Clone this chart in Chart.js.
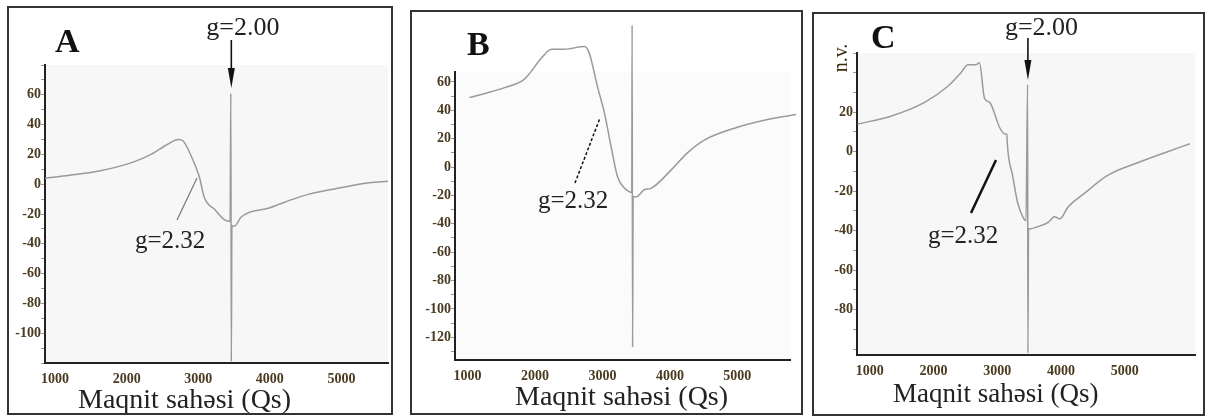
<!DOCTYPE html>
<html>
<head>
<meta charset="utf-8">
<script src="https://cdn.jsdelivr.net/npm/chart.js@4.4.1/dist/chart.umd.min.js"></script>
<style>
  html, body { margin: 0; padding: 0; background: #fff; }
  body { width: 1213px; height: 419px; position: relative; overflow: hidden; }
  .panel { position: absolute; box-sizing: border-box; border: 2px solid #333; background: #fff; }
  .panel canvas { display: block; }
</style>
</head>
<body>
<div class="panel" style="left:7px;top:6px;width:386px;height:409px"><canvas id="ca" width="382" height="405"></canvas></div>
<div class="panel" style="left:410px;top:10px;width:393px;height:405px"><canvas id="cb" width="389" height="401"></canvas></div>
<div class="panel" style="left:812px;top:12px;width:393px;height:404px"><canvas id="cc" width="389" height="400"></canvas></div>
<script>
// EPR spectra A, B, C: field (Qs) vs signal.
const aField = [860, 1200, 1634, 2100, 2340, 2580, 2720, 2790, 2900, 3015, 3085, 3230, 3370, 3445, 3455, 3462, 3470, 3510, 3600, 3990, 4450, 4920, 5390, 5650];
const aSignal = [4, 6, 9, 15, 20, 27, 30, 29, 19, 5, -9, -17, -24, -25, 61, -119, -28, -28, -22, -16, -8, -3, 1, 2];

const bField = [1030, 1550, 1845, 2100, 2245, 2440, 2730, 2800, 2930, 3030, 3130, 3225, 3330, 3385, 3435, 3440, 3447, 3455, 3500, 3620, 3720, 4020, 4260, 4510, 5000, 5500, 5870];
const bSignal = [49, 56, 62, 77, 83, 83, 85, 81, 56, 38, 14, -7, -15, -17, -18, 100, -127, -21, -21, -16, -15, -2, 10, 19, 28, 34, 37];

const cField = [810, 1330, 1860, 2220, 2430, 2540, 2660, 2720, 2800, 2880, 3040, 3120, 3150, 3155, 3240, 3320, 3400, 3450, 3475, 3480, 3490, 3525, 3630, 3790, 3900, 3980, 4110, 4370, 4730, 5250, 5670, 6020];
const cSignal = [14, 18, 25, 33, 40, 44, 44, 45, 27, 25, 12, 9, 9, 5, -12, -26, -33, -35, 34, -102, -39, -39, -38, -36, -33, -34, -28, -21, -12, -5, 0, 4];

const xTickLabels = [1000, 2000, 3000, 4000, 5000];
const aYLabels = [60, 40, 20, 0, -20, -40, -60, -80, -100];
const bYLabels = [60, 40, 20, 0, -20, -40, -60, -80, -100, -120];
const cYLabels = [20, 0, -20, -40, -60, -80];
const xTitle = "Maqnit sahəsi (Qs)";

const SERIF = '"Liberation Serif", "Times New Roman", serif';
const TICK_COLOR = "#4a3a20";

function txt(ctx, s, x, y, font, color) {
  ctx.font = font;
  ctx.fillStyle = color || "#222";
  ctx.textAlign = "left";
  ctx.textBaseline = "alphabetic";
  ctx.fillText(s, x, y);
}

function line(ctx, x1, y1, x2, y2, color, width, dash) {
  ctx.save();
  ctx.strokeStyle = color;
  ctx.lineWidth = width;
  ctx.setLineDash(dash || []);
  ctx.beginPath();
  ctx.moveTo(x1, y1);
  ctx.lineTo(x2, y2);
  ctx.stroke();
  ctx.restore();
}

function arrow(ctx, x, y1, y2) {
  line(ctx, x, y1, x, y2 - 18, "#111", 1.6);
  ctx.fillStyle = "#111";
  ctx.beginPath();
  ctx.moveTo(x - 3.5, y2 - 20);
  ctx.lineTo(x + 3.5, y2 - 20);
  ctx.lineTo(x, y2);
  ctx.closePath();
  ctx.fill();
}

// x pixel of the sharp g=2.00 line (where the signal dips lowest)
function spikeX(chart, field, signal) {
  return chart.scales.x.getPixelForValue(field[signal.indexOf(Math.min(...signal))]);
}

function panel(id, field, signal, cfg) {
  const notes = {
    id: "notes",
    beforeDraw(chart) {
      const { ctx, chartArea: a } = chart;
      ctx.save();
      ctx.fillStyle = cfg.bg;
      ctx.fillRect(a.left, a.top, a.right - a.left, a.bottom - a.top);
      ctx.restore();
    },
    afterDraw(chart) {
      const ctx = chart.ctx;
      ctx.save();
      cfg.notes(ctx, chart);
      ctx.restore();
    }
  };
  // minor ticks every 10 units, labels only where the figure has them
  const yTicks = [];
  for (let v = Math.ceil(cfg.yMin / 10) * 10; v <= cfg.yMax; v += 10) yTicks.push(v);

  return new Chart(document.getElementById(id), {
    type: "line",
    data: {
      datasets: [{
        data: field.map((f, i) => ({ x: f, y: signal[i] })),
        borderColor: "#9a9a9a",
        borderWidth: 1.5,
        pointRadius: 0,
        cubicInterpolationMode: "monotone",
        clip: false
      }]
    },
    plugins: [notes],
    options: {
      responsive: false,
      animation: false,
      layout: { padding: cfg.pad },
      plugins: { legend: { display: false }, tooltip: { enabled: false } },
      scales: {
        x: {
          type: "linear",
          min: cfg.xMin,
          max: cfg.xMax,
          afterBuildTicks(s) { s.ticks = xTickLabels.map((v) => ({ value: v })); },
          afterFit(s) { s.height = 20; },
          border: { color: "#222", width: 2 },
          grid: { drawOnChartArea: false, drawTicks: false },
          ticks: {
            autoSkip: false,
            maxRotation: 0,
            padding: 8,
            color: TICK_COLOR,
            font: { family: SERIF, size: 14, weight: "bold" },
            callback: (v) => String(v)
          }
        },
        y: {
          min: cfg.yMin,
          max: cfg.yMax,
          afterBuildTicks(s) { s.ticks = yTicks.map((v) => ({ value: v })); },
          afterFit(s) { s.width = cfg.yWidth; },
          border: { color: "#222", width: 2 },
          grid: { drawOnChartArea: false, drawTicks: true, tickLength: 4, color: "#999" },
          ticks: {
            autoSkip: false,
            padding: 0,
            color: TICK_COLOR,
            font: { family: SERIF, size: 14, weight: "bold" },
            callback: (v) => (cfg.yLabels.includes(v) ? String(v) : "")
          }
        }
      }
    }
  });
}

panel("ca", aField, aSignal, {
  xMin: 860, xMax: 5650, yMin: -120, yMax: 80, yLabels: aYLabels, yWidth: 36,
  pad: { left: 0, right: 3, top: 57, bottom: 30 }, bg: "#f7f7f7",
  notes(ctx, chart) {
    const sx = spikeX(chart, aField, aSignal);
    txt(ctx, "A", 46, 44, "bold 34px " + SERIF, "#111");
    txt(ctx, "g=2.00", sx - 25, 27, "26px " + SERIF);
    arrow(ctx, sx, 32, 80);
    line(ctx, 168, 212, 188, 170, "#777", 1.2);
    txt(ctx, "g=2.32", 126, 240, "25px " + SERIF);
    txt(ctx, xTitle, 69, 400, "28px " + SERIF);
  }
});

panel("cb", bField, bSignal, {
  xMin: 815, xMax: 5780, yMin: -136, yMax: 67, yLabels: bYLabels, yWidth: 43,
  pad: { left: 0, right: 11, top: 60, bottom: 33 }, bg: "#fbfbfb",
  notes(ctx) {
    txt(ctx, "B", 55, 43, "bold 34px " + SERIF, "#111");
    line(ctx, 163, 171, 188, 106, "#111", 1.5, [3, 2]);
    txt(ctx, "g=2.32", 126, 196, "25px " + SERIF);
    txt(ctx, xTitle, 103, 393, "28px " + SERIF);
  }
});

panel("cc", cField, cSignal, {
  xMin: 800, xMax: 6100, yMin: -103, yMax: 50, yLabels: cYLabels, yWidth: 43,
  pad: { left: 0, right: 8, top: 39, bottom: 39 }, bg: "#f7f7f7",
  notes(ctx, chart) {
    const sx = spikeX(chart, cField, cSignal);
    txt(ctx, "C", 57, 34, "bold 34px " + SERIF, "#111");
    ctx.save();
    ctx.translate(28, 44);
    ctx.rotate(-Math.PI / 2);
    ctx.font = "20px " + SERIF;
    ctx.fillStyle = "#3a2a10";
    ctx.textAlign = "center";
    ctx.textBaseline = "middle";
    ctx.fillText("n.v.", 0, 0);
    ctx.restore();
    txt(ctx, "g=2.00", sx - 23, 21, "26px " + SERIF);
    arrow(ctx, sx, 24, 66);
    line(ctx, 157, 199, 182, 146, "#111", 2.5);
    txt(ctx, "g=2.32", 114, 229, "25px " + SERIF);
    txt(ctx, xTitle, 79, 388, "27px " + SERIF);
  }
});
</script>
</body>
</html>
